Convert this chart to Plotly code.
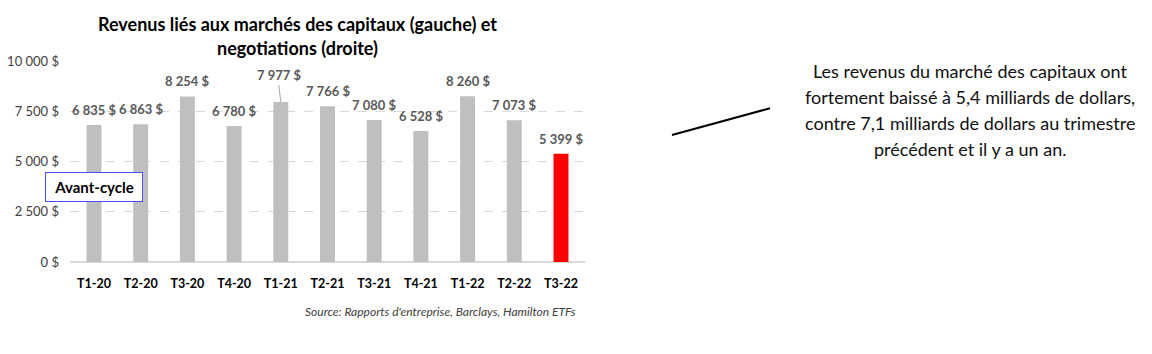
import plotly.graph_objects as go

quarters = ["T1-20", "T2-20", "T3-20", "T4-20", "T1-21", "T2-21", "T3-21", "T4-21", "T1-22", "T2-22", "T3-22"]
revenues = [6835, 6863, 8254, 6780, 7977, 7766, 7080, 6528, 8260, 7073, 5399]
bar_colors = ["#BFBFBF"] * 10 + ["#FF0000"]
y_tickvals = [0, 2500, 5000, 7500, 10000]
y_ticktext = ["0 $", "2 500 $", "5 000 $", "7 500 $", "10 000 $"]
title_lines = ["Revenus liés aux marchés des capitaux (gauche) et", "negotiations (droite)"]
note_lines = ["Les revenus du marché des capitaux ont",
              "fortement baissé à 5,4 milliards de dollars,",
              "contre 7,1 milliards de dollars au trimestre",
              "précédent et il y a un an."]

W, H = 1152, 354
FONT = "Lato, 'Open Sans', sans-serif"

def px(x):
    return x / W

def py(y):
    return 1 - y / H

def fmt(v):
    return f"{v:,}".replace(",", " ") + " $"

fig = go.Figure()
fig.add_trace(go.Bar(
    x=quarters, y=revenues, marker=dict(color=bar_colors, line=dict(width=0)),
    width=0.32, hoverinfo="skip"))

annotations = []
for q, v in zip(quarters, revenues):
    if q == "T1-21":
        annotations.append(dict(x=q, y=v, xref="x", yref="y", text="<b>" + fmt(v) + "</b>",
                                showarrow=True, ax=-2, ay=-17, arrowhead=0, arrowwidth=1,
                                arrowcolor="#A6A6A6", standoff=0, yanchor="bottom",
                                font=dict(family=FONT, size=13, color="#595959")))
    else:
        annotations.append(dict(x=q, y=v, xref="x", yref="y", text="<b>" + fmt(v) + "</b>",
                                showarrow=False, yanchor="middle", yshift=15,
                                font=dict(family=FONT, size=13, color="#595959")))

for i, line in enumerate(title_lines):
    annotations.append(dict(x=px(297), y=py(17 + 25 * i), xref="paper", yref="paper",
                            xanchor="center", yanchor="middle", showarrow=False,
                            text="<b>" + line + "</b>",
                            font=dict(family=FONT, size=18, color="#000000")))

for i, line in enumerate(note_lines):
    annotations.append(dict(x=px(970), y=py(66 + 27.3 * i), xref="paper", yref="paper",
                            xanchor="center", yanchor="middle", showarrow=False,
                            text=line, font=dict(family=FONT, size=18, color="#111111")))

annotations += [
    dict(x=px(94), y=py(187), xref="paper", yref="paper", showarrow=False,
         xanchor="center", yanchor="middle",
         text="<b>Avant-cycle</b>", font=dict(family=FONT, size=15, color="#000000"),
         bordercolor="#4B4BFF", borderwidth=1, bgcolor="#FFFFFF", borderpad=5,
         width=86, height=18),
    dict(x=px(578), y=py(318), xref="paper", yref="paper", showarrow=False,
         xanchor="right", yanchor="middle",
         text="<i>Source: Rapports d'entreprise, Barclays, Hamilton ETFs</i>",
         font=dict(family=FONT, size=12, color="#404040")),
]

fig.add_shape(type="line", xref="paper", yref="paper",
              x0=px(672), y0=py(133), x1=px(770), y1=py(105),
              line=dict(color="#000000", width=2))

fig.update_layout(
    width=W, height=H, margin=dict(l=0, r=0, t=0, b=0),
    paper_bgcolor="#FFFFFF", plot_bgcolor="#FFFFFF", showlegend=False,
    annotations=annotations,
    xaxis=dict(domain=[px(70), px(585)], tickfont=dict(family=FONT, size=12.5, color="#000000"),
               ticks="", showgrid=False, showline=False, ticklabelstandoff=13,
               tickvals=quarters, ticktext=["<b>" + q + "</b>" for q in quarters]),
    yaxis=dict(domain=[py(266), py(56)], range=[0, 10000], tickvals=y_tickvals, ticktext=y_ticktext,
               tickfont=dict(family=FONT, size=13, color="#404040"), ticklabelstandoff=10,
               showgrid=True, gridcolor="#D9D9D9", griddash="dash", gridwidth=1,
               zeroline=True, zerolinecolor="#D9D9D9", zerolinewidth=2, ticks=""),
)

fig.write_html("out.html")
